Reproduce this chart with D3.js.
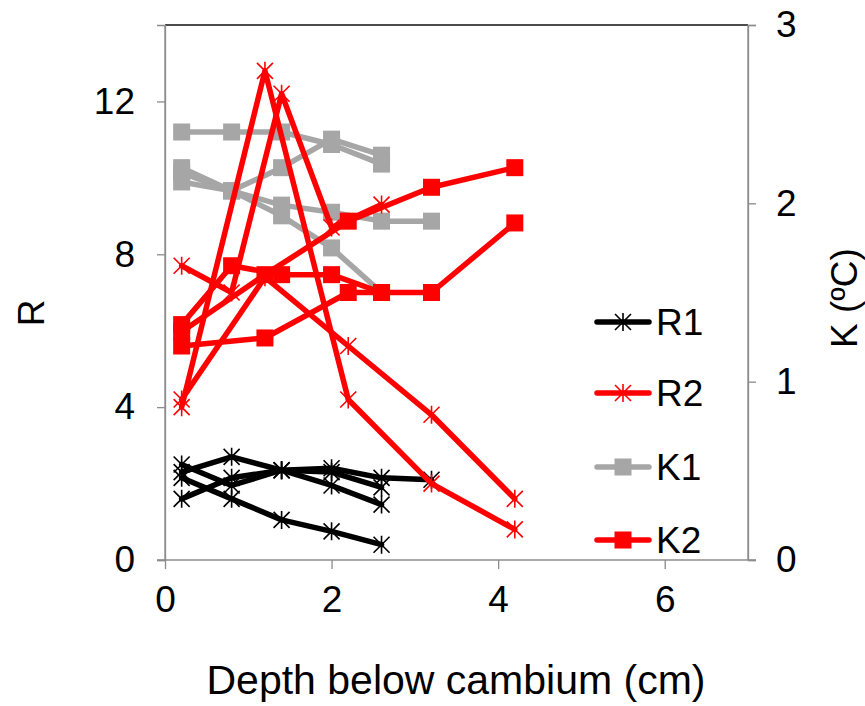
<!DOCTYPE html>
<html><head><meta charset="utf-8">
<script src="https://cdn.jsdelivr.net/npm/d3@7"></script>
<style>
html,body{margin:0;padding:0;background:#fff;}
text{font-family:"Liberation Sans",Arial,sans-serif;fill:#000;}
</style></head>
<body>
<svg id="c" width="865" height="706"></svg>
<script>
// ---- data ----
const depthA = [0.2, 0.8, 1.4, 2.0, 2.6, 3.2];
const depthB = [0.2, 1.2, 2.2, 3.2, 4.2];

// R1 (left axis), depth grid A
const r1a = [2.15, 1.6, 1.05, 0.75, 0.4];
const r1b = [2.3, 2.7, 2.35, 1.95, 1.45];
const r1c = [1.6, 2.15, 2.35, 2.4, 2.15, 2.1];
const r1d = [2.5, 1.95, 2.35, 2.3, 1.9];

// R2 (left axis)
const r2a = [4.0, 12.8, 4.2, 2.0, 0.8];   // depth grid B
const r2b = [4.2, 7.4, 5.6, 3.8, 1.6];    // depth grid B
const r2c = [7.7, 7.0, 12.2, 8.7, 9.3];   // depth grid A

// K1 (right axis), depth grid A
const k1a = [2.4, 2.4, 2.4, 2.33, 2.22];
const k1b = [2.17, 2.07, 2.2, 2.36, 2.27];
const k1c = [2.12, 2.07, 1.99, 1.95, 1.9, 1.9];
const k1d = [2.2, 2.07, 1.93, 1.75, 1.5];

// K2 (right axis)
const k2a = [1.32, 1.65, 1.6, 1.6, 1.5];   // depth grid A
const k2b = [1.2, 1.245, 1.5, 1.5, 1.89];  // depth grid B
const k2c = [1.28, 1.6, 1.9, 2.09, 2.2];   // depth grid B

const xTicks = [0, 2, 4, 6];
const yLTicks = [0, 4, 8, 12];
const yRTicks = [0, 1, 2, 3];
const legendNames = ["R1", "R2", "K1", "K2"];

// ---- chart ----
const svg = d3.select("#c");
const L = 165, R = 748, T = 25, B = 560;
const x = d3.scaleLinear().domain([0, 7]).range([L, R]);
const yL = d3.scaleLinear().domain([0, 14]).range([B, T]);
const yR = d3.scaleLinear().domain([0, 3]).range([B, T]);

const zip = (d, v) => v.map((val, i) => [d[i], val]);

const series = [
  {name: "K1", color: "#a6a6a6", marker: "square", axis: yR, lines: [zip(depthA, k1a), zip(depthA, k1b), zip(depthA, k1c), zip(depthA, k1d)]},
  {name: "R1", color: "#000000", marker: "star", axis: yL, lines: [zip(depthA, r1a), zip(depthA, r1b), zip(depthA, r1c), zip(depthA, r1d)]},
  {name: "R2", color: "#ff0000", marker: "star", axis: yL, lines: [zip(depthB, r2a), zip(depthB, r2b), zip(depthA, r2c)]},
  {name: "K2", color: "#ff0000", marker: "square", axis: yR, lines: [zip(depthA, k2a), zip(depthB, k2b), zip(depthB, k2c)]}
];

// frame
const axisCol = "#8c8c8c";
svg.append("line").attr("x1", L).attr("x2", R).attr("y1", T).attr("y2", T).attr("stroke", "#111").attr("stroke-width", 1.3);
svg.append("line").attr("x1", L).attr("x2", L).attr("y1", T).attr("y2", B).attr("stroke", axisCol).attr("stroke-width", 1.3);
svg.append("line").attr("x1", R).attr("x2", R).attr("y1", T).attr("y2", B).attr("stroke", axisCol).attr("stroke-width", 1.3);

const fs = 37;
// axes
const gx = svg.append("g").attr("transform", `translate(0,${B})`)
  .call(d3.axisBottom(x).tickValues(xTicks).tickSize(9).tickPadding(17).tickFormat(d3.format("d")));
const gl = svg.append("g").attr("transform", `translate(${L},0)`)
  .call(d3.axisLeft(yL).tickValues(yLTicks).tickSize(8).tickPadding(22).tickFormat(d3.format("d")));
const gr = svg.append("g").attr("transform", `translate(${R},0)`)
  .call(d3.axisRight(yR).tickValues(yRTicks).tickSize(8).tickPadding(20).tickFormat(d3.format("d")));
[gx, gl, gr].forEach(g => {
  g.select(".domain").attr("stroke", axisCol).attr("stroke-width", 1.3);
  g.selectAll(".tick line").attr("stroke", axisCol).attr("stroke-width", 1.3);
  g.selectAll("text").style("font-family", '"Liberation Sans", Arial, sans-serif').style("font-size", fs + "px").attr("fill", "#000");
});
gx.select(".domain").attr("d", `M${L - 8},0H${R + 8}`);

// axis titles
svg.append("text").attr("x", 456).attr("y", 694).attr("text-anchor", "middle").style("font-size", "41px").text("Depth below cambium (cm)");
svg.append("text").attr("transform", "translate(44,313) rotate(-90)").attr("text-anchor", "middle").style("font-size", fs + "px").text("R");
svg.append("text").attr("transform", "translate(857,298) rotate(-90)").attr("text-anchor", "middle").style("font-size", fs + "px").text("K (\u00baC)");

// markers
function drawMarker(g, type, color, cx, cy) {
  if (type === "square") {
    const s = 17;
    g.append("rect").attr("x", cx - s / 2).attr("y", cy - s / 2).attr("width", s).attr("height", s).attr("fill", color);
  } else {
    const h = 9, dx = 8;
    g.append("path").attr("d", `M${cx},${cy - h}V${cy + h}M${cx - dx},${cy - dx}L${cx + dx},${cy + dx}M${cx - dx},${cy + dx}L${cx + dx},${cy - dx}`)
      .attr("stroke", color).attr("stroke-width", 1.6).attr("fill", "none");
  }
}

const plot = svg.append("g");
series.forEach(s => {
  const line = d3.line().x(d => x(d[0])).y(d => s.axis(d[1]));
  s.lines.forEach(pts => {
    const g = plot.append("g");
    g.append("path").attr("d", line(pts)).attr("fill", "none").attr("stroke", s.color)
      .attr("stroke-width", 5.5).attr("stroke-linejoin", "round").attr("stroke-linecap", "round");
    pts.forEach(p => drawMarker(g, s.marker, s.color, x(p[0]), s.axis(p[1])));
  });
});

// legend
const legY = [322, 393, 467, 540];
const legSeries = legendNames.map(n => series.find(s => s.name === n));
legSeries.forEach((s, i) => {
  const g = svg.append("g");
  const yy = legY[i];
  g.append("line").attr("x1", 597).attr("x2", 649).attr("y1", yy).attr("y2", yy)
    .attr("stroke", s.color).attr("stroke-width", 5.5).attr("stroke-linecap", "round");
  drawMarker(g, s.marker, s.color, 623, yy);
  g.append("text").attr("x", 656).attr("y", yy + 13).style("font-size", fs + "px").text(s.name);
});
</script>
</body></html>
